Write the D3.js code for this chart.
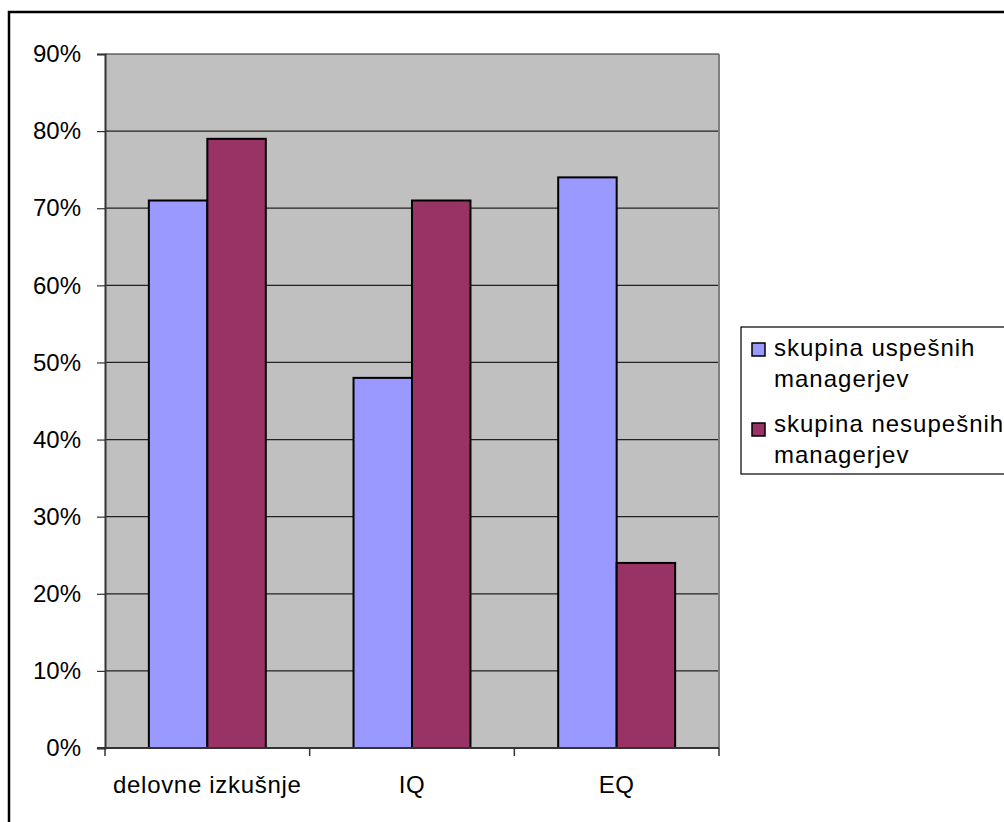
<!DOCTYPE html>
<html>
<head>
<meta charset="utf-8">
<script src="https://cdn.jsdelivr.net/npm/d3@7"></script>
<style>
  html, body { margin: 0; padding: 0; background: #fff; }
  svg { display: block; }
  text { font-family: "Liberation Sans", Arial, sans-serif; fill: #000; }
</style>
</head>
<body>
<svg id="chart" width="1004" height="822"></svg>
<script>
// Categories and series
const categories = ["delovne izkušnje", "IQ", "EQ"];
const seriesNames = ["skupina uspešnih managerjev", "skupina nesupešnih managerjev"];
const legendLines = [["skupina uspešnih", "managerjev"], ["skupina nesupešnih", "managerjev"]];
const uspesni = [71, 48, 74];
const neuspesni = [79, 71, 24];
const yTicks = [0, 10, 20, 30, 40, 50, 60, 70, 80, 90];
const colors = ["#9999FF", "#993366"];

const svg = d3.select("#chart");

// outer frame
svg.append("rect")
  .attr("x", 9).attr("y", 12)
  .attr("width", 1010).attr("height", 830)
  .attr("fill", "#fff").attr("stroke", "#000").attr("stroke-width", 2.5);

const plot = { left: 105, right: 719, top: 54, bottom: 748 };

const x = d3.scaleBand().domain(categories).range([plot.left, plot.right]);
const y = d3.scaleLinear().domain([0, 90]).range([plot.bottom, plot.top]);

// plot background
svg.append("rect")
  .attr("x", plot.left).attr("y", plot.top)
  .attr("width", plot.right - plot.left).attr("height", plot.bottom - plot.top)
  .attr("fill", "#C0C0C0");

// gridlines
svg.append("g").selectAll("line").data(yTicks.filter(d => d > 0)).join("line")
  .attr("x1", plot.left).attr("x2", plot.right)
  .attr("y1", d => y(d)).attr("y2", d => y(d))
  .attr("stroke", "#222").attr("stroke-width", 1.2);

// right edge of plot area
svg.append("line")
  .attr("x1", plot.right).attr("x2", plot.right)
  .attr("y1", plot.top).attr("y2", plot.bottom)
  .attr("stroke", "#808080").attr("stroke-width", 2);

// bars
const seriesData = [uspesni, neuspesni];
const gapRatio = 1.5;
const barW = x.bandwidth() / (2 + gapRatio);
seriesData.forEach((vals, si) => {
  svg.append("g").selectAll("rect").data(vals).join("rect")
    .attr("x", (d, i) => x(categories[i]) + x.bandwidth() / 2 - barW + si * barW)
    .attr("y", d => y(d))
    .attr("width", barW)
    .attr("height", d => y(0) - y(d))
    .attr("fill", colors[si])
    .attr("stroke", "#000").attr("stroke-width", 2);
});

// y axis
const yAxis = d3.axisLeft(y).tickValues(yTicks).tickFormat(d => d + "%").tickSize(8).tickPadding(16);
const gy = svg.append("g").attr("transform", `translate(${plot.left},0)`).call(yAxis);
gy.select(".domain").attr("stroke", "#333").attr("stroke-width", 2);
gy.selectAll(".tick line").attr("stroke", "#333").attr("stroke-width", 1.2);
gy.selectAll("text").attr("font-size", 24).attr("font-family", "Liberation Sans, Arial, sans-serif").attr("fill", "#000");

// x axis
const xTickPos = [plot.left, x(categories[1]), x(categories[2]), plot.right];
const gx = svg.append("g");
gx.append("line")
  .attr("x1", plot.left - 8).attr("x2", plot.right)
  .attr("y1", plot.bottom).attr("y2", plot.bottom)
  .attr("stroke", "#333").attr("stroke-width", 2);
gx.selectAll("line.tk").data(xTickPos).join("line").attr("class", "tk")
  .attr("x1", d => d).attr("x2", d => d)
  .attr("y1", plot.bottom).attr("y2", plot.bottom + 8)
  .attr("stroke", "#333").attr("stroke-width", 1.5);
gx.selectAll("text").data(categories).join("text")
  .attr("x", d => x(d) + x.bandwidth() / 2)
  .attr("y", 793)
  .attr("text-anchor", "middle")
  .attr("font-size", 24)
  .attr("letter-spacing", 0.7)
  .text(d => d);

// legend
const lg = svg.append("g");
lg.append("rect")
  .attr("x", 741).attr("y", 327).attr("width", 280).attr("height", 147)
  .attr("fill", "#fff").attr("stroke", "#000").attr("stroke-width", 1.2);
const itemTop = [343, 423];
const baselines = [[356, 387], [432, 463]];
seriesNames.forEach((name, i) => {
  lg.append("rect")
    .attr("x", 752).attr("y", itemTop[i]).attr("width", 13).attr("height", 13)
    .attr("fill", colors[i]).attr("stroke", "#000").attr("stroke-width", 1.5);
  legendLines[i].forEach((line, j) => {
    lg.append("text")
      .attr("x", 774).attr("y", baselines[i][j])
      .attr("font-size", 24)
      .attr("letter-spacing", 1)
      .text(line);
  });
});
</script>
</body>
</html>
